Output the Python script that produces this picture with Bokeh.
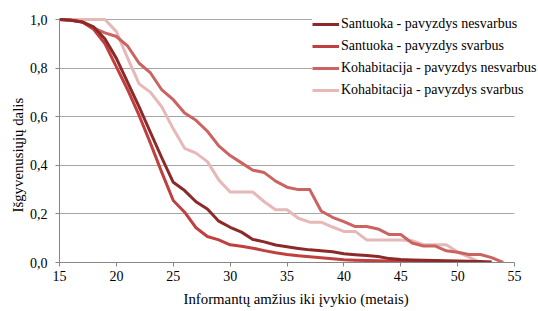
from bokeh.plotting import figure
from bokeh.models import Legend, LegendItem, FixedTicker, CustomJSTickFormatter, BoxAnnotation, Title
from bokeh.embed import file_html
from bokeh.resources import INLINE

# ---- data ----
ages_s_nesv = list(range(15, 54))
s_nesv = [1.0, 0.997, 0.99, 0.97, 0.92, 0.84, 0.74, 0.64, 0.535, 0.43, 0.33,
          0.296, 0.25, 0.22, 0.17, 0.145, 0.125, 0.095, 0.085, 0.072, 0.065,
          0.058, 0.052, 0.048, 0.044, 0.036, 0.032, 0.029, 0.025, 0.016, 0.012,
          0.01, 0.009, 0.008, 0.007, 0.006, 0.005, 0.004, 0.002]

ages_s_sv = list(range(15, 51))
s_sv = [1.0, 0.997, 0.99, 0.96, 0.90, 0.805, 0.71, 0.605, 0.49, 0.37, 0.255,
        0.207, 0.143, 0.107, 0.093, 0.073, 0.067, 0.059, 0.049, 0.04, 0.033,
        0.028, 0.024, 0.02, 0.015, 0.011, 0.009, 0.008, 0.007, 0.006, 0.006,
        0.005, 0.005, 0.004, 0.004, 0.004]

ages_k_nesv = list(range(15, 55))
k_nesv = [1.0, 0.998, 0.99, 0.965, 0.945, 0.93, 0.89, 0.82, 0.78, 0.71, 0.67,
          0.615, 0.585, 0.54, 0.48, 0.44, 0.41, 0.38, 0.37, 0.335, 0.31,
          0.30, 0.30, 0.212, 0.186, 0.168, 0.148, 0.148, 0.138, 0.115, 0.115,
          0.08, 0.068, 0.068, 0.048, 0.042, 0.033, 0.033, 0.02, 0.0]

ages_k_sv = list(range(15, 53))
k_sv = [1.0, 1.0, 1.0, 1.0, 1.0, 0.95, 0.84, 0.735, 0.70, 0.64, 0.55,
        0.47, 0.45, 0.415, 0.34, 0.29, 0.29, 0.29, 0.25, 0.217, 0.217,
        0.182, 0.166, 0.166, 0.146, 0.128, 0.128, 0.093, 0.093, 0.093, 0.093,
        0.09, 0.073, 0.073, 0.073, 0.043, 0.022, 0.0]

labels = ["Santuoka - pavyzdys nesvarbus", "Santuoka - pavyzdys svarbus",
          "Kohabitacija - pavyzdys nesvarbus", "Kohabitacija - pavyzdys svarbus"]
x_ticks = [15, 20, 25, 30, 35, 40, 45, 50, 55]
y_ticks = [0.0, 0.2, 0.4, 0.6, 0.8, 1.0]
x_min, x_max = 15, 55
y_min, y_max = 0.0, 1.0
x_title = "Informantų amžius iki įvykio (metais)"
y_title = "Išgyvenusiųjų dalis"

colors = ["#8C2A2A", "#C0403F", "#CB6461", "#E6B9B8"]
FONT = "Liberation Serif"

# frame spans to the right and top edges so the legend is not clipped;
# the axes themselves stop at 55 and 1,0
p = figure(width=538, height=311, output_backend="svg", toolbar_location=None,
           x_range=(x_min, x_min + (538 - 59) * (x_max - x_min) / 455.0),
           y_range=(y_min, y_max + 19 * (y_max - y_min) / 243.0))
p.min_border_left = 59
p.min_border_top = 0
p.min_border_right = 0
p.min_border_bottom = 49
p.outline_line_color = None
p.background_fill_color = "white"
p.border_fill_color = "white"

p.xgrid.grid_line_color = None
p.ygrid.grid_line_color = "#A6A6A6"
p.ygrid.grid_line_width = 1
p.ygrid.ticker = FixedTicker(ticks=y_ticks)

# white cover for gridlines right of the last x tick
p.add_layout(BoxAnnotation(left=x_max, fill_color="white", fill_alpha=1.0,
                           line_color=None, level="underlay"))

p.xaxis.ticker = FixedTicker(ticks=x_ticks)
p.xaxis.bounds = (x_min, x_max)
p.yaxis.ticker = FixedTicker(ticks=y_ticks)
p.yaxis.bounds = (y_min, y_max)
p.yaxis.formatter = CustomJSTickFormatter(code="return tick.toFixed(1).replace('.', ',');")

for ax in (p.xaxis[0], p.yaxis[0]):
    ax.axis_line_color = "#868686"
    ax.major_tick_line_color = "#868686"
    ax.major_tick_out = 4
    ax.major_tick_in = 0
    ax.minor_tick_line_color = None
    ax.major_label_text_font = FONT
    ax.major_label_text_font_size = "14px"
    ax.major_label_text_color = "black"
p.xaxis.major_label_standoff = 4
p.yaxis.major_label_standoff = 8

xt = Title(text=x_title, align="left", offset=124, standoff=10,
           text_font=FONT, text_font_size="14.8px", text_font_style="normal",
           text_color="black")
p.add_layout(xt, "below")
yt = Title(text=y_title, align="left", offset=50, standoff=1,
           text_font=FONT, text_font_size="14.8px", text_font_style="normal",
           text_color="black")
p.add_layout(yt, "left")

series = [(ages_s_nesv, s_nesv), (ages_s_sv, s_sv), (ages_k_nesv, k_nesv), (ages_k_sv, k_sv)]
rmap = {}
for i in [3, 2, 1, 0]:
    xs, ys = series[i]
    rmap[i] = p.line(xs, ys, line_color=colors[i], line_width=3, line_join="round")

items = [LegendItem(label=labels[i], renderers=[rmap[i]]) for i in range(4)]
legend = Legend(items=items, location=(253, 164.5))
legend.label_text_font = FONT
legend.label_text_font_size = "14px"
legend.label_text_color = "black"
legend.glyph_width = 27
legend.glyph_height = 16
legend.label_standoff = 2
legend.spacing = 6
legend.padding = 3
legend.margin = 0
legend.border_line_color = None
legend.background_fill_color = "white"
legend.background_fill_alpha = 1.0
legend.label_height = 16
p.add_layout(legend, "center")

html = file_html(p, INLINE)
open("out.html", "w").write(html)
